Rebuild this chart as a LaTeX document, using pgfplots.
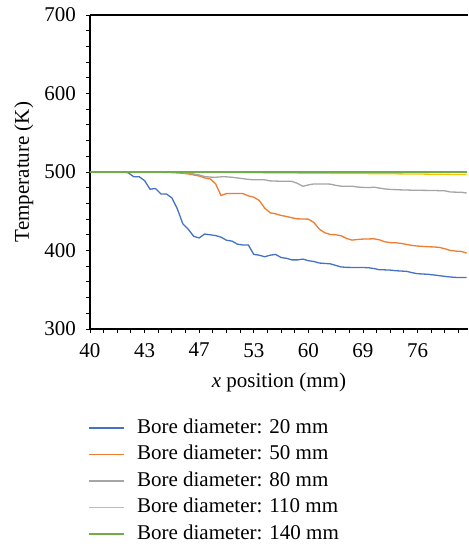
\documentclass[border=0pt]{standalone}
\usepackage{fontspec}
\setmainfont{Liberation Serif}
\usepackage{pgfplots}
\pgfplotsset{compat=1.18}

\definecolor{cBlue}{HTML}{4472C4}
\definecolor{cOrange}{HTML}{ED7D31}
\definecolor{cGray}{HTML}{A5A5A5}
\definecolor{cYellow}{HTML}{FFC000}
\definecolor{cGreen}{HTML}{70AD47}

\begin{document}
\fontsize{21bp}{25bp}\selectfont
\begin{tikzpicture}
\begin{axis}[
    at={(0,0)}, anchor=south west,
    scale only axis, width=378bp, height=314bp,
    xmin=0, xmax=6.923, ymin=300, ymax=700,
    axis x line=box, axis y line=left,
    axis line style={-, line width=1.2bp, black},
    xtick pos=left, ytick pos=left, tick align=outside,
    major tick length=4bp, minor tick length=4bp,
    tick style={black, line width=0.9bp},
    xtick={0,...,6},
    xticklabels={40,43,47,53,60,69,76},
    minor xtick={0,0.25,...,6.8},
    ytick={300,400,...,700},
    minor y tick num=4,
    /pgf/number format/assume math mode=true,
    tick label style={font=\fontsize{21bp}{25bp}\selectfont},
    yticklabel style={inner sep=0pt, xshift=-10bp},
    xticklabel style={inner sep=0pt, yshift=-10bp},
    xlabel={\textit{x} position (mm)},
    ylabel={Temperature (K)},
    xlabel style={at={(axis description cs:0.5,-0.187)}, anchor=base},
    ylabel style={at={(axis description cs:-0.1614,0.5)}, anchor=base},
    legend cell align=left,
    legend image code/.code={\draw[#1, line width=1.8bp] (0bp,0bp) -- (35bp,0bp);},
    legend style={at={(axis description cs:-0.005,-0.283)}, anchor=north west,
        draw=none, fill=none, inner sep=0pt, row sep=6.5bp, column sep=12bp,
        nodes={inner sep=0pt, text height=15bp, text depth=5bp},
        font=\fontsize{21bp}{25bp}\selectfont},
    every axis plot/.append style={line width=1.3bp},
]
\addplot[cBlue] coordinates {
(0,500) (0.1,500) (0.2,500) (0.3,500) (0.4,500) (0.5,500) (0.6,500) (0.7,499)
(0.8,494) (0.9,494) (1.0,489) (1.1,478) (1.2,479) (1.3,472) (1.4,472) (1.5,467)
(1.6,453) (1.7,434) (1.8,427) (1.9,418) (2.0,416) (2.1,421) (2.2,420) (2.3,419)
(2.4,417) (2.5,413) (2.6,412) (2.7,408) (2.8,407) (2.9,407) (3.0,395) (3.1,394)
(3.2,392) (3.3,394) (3.4,395) (3.5,391) (3.6,390) (3.7,388) (3.8,388) (3.9,389)
(4.0,387) (4.1,386) (4.2,384) (4.3,383.5) (4.4,383) (4.5,381) (4.6,379) (4.7,378.5)
(4.8,378.4) (4.9,378.4) (5.0,378.3) (5.1,378) (5.2,377) (5.3,375.5) (5.4,375.3) (5.5,375)
(5.6,374.2) (5.7,373.8) (5.8,373.4) (5.9,371.7) (6.0,370.4) (6.1,370) (6.2,369.6) (6.3,368.8)
(6.4,367.9) (6.5,367) (6.6,366.2) (6.7,365.7) (6.8,365.5) (6.9,365.5)
};
\addlegendentry{Bore diameter: 20 mm}
\addplot[cOrange] coordinates {
(0,500) (0.5,500) (1.0,500) (1.1,500) (1.2,499.8) (1.3,499.6) (1.4,499.4) (1.5,499.2)
(1.6,498.8) (1.7,498.3) (1.8,497.5) (1.9,496.2) (2.0,494.9) (2.1,492.5) (2.2,491.2) (2.3,485)
(2.4,470) (2.5,472.5) (2.6,472.5) (2.7,472.5) (2.8,472.5) (2.9,469.6) (3.0,467.9) (3.1,463.7)
(3.2,454) (3.3,448) (3.4,446.7) (3.5,444.6) (3.6,443.3) (3.7,441.6) (3.8,440.3) (3.9,440.1)
(4.0,439.9) (4.1,435.7) (4.2,427.2) (4.3,422.6) (4.4,420.4) (4.5,420) (4.6,418.7) (4.7,415.3)
(4.8,413.2) (4.9,414) (5.0,414.5) (5.1,414.7) (5.2,414.9) (5.3,413.6) (5.4,411.1) (5.5,410)
(5.6,409.8) (5.7,409) (5.8,407.7) (5.9,406.4) (6.0,405.6) (6.1,405.2) (6.2,404.7) (6.3,404.5)
(6.4,403.9) (6.5,402.2) (6.6,400) (6.7,399.2) (6.8,398.8) (6.9,396.7)
};
\addlegendentry{Bore diameter: 50 mm}
\addplot[cGray] coordinates {
(0,500) (0.5,500) (1.0,500) (1.5,500) (1.6,499.8) (1.7,499) (1.8,498.5) (1.9,497.5)
(2.0,496.2) (2.1,494.2) (2.2,493.5) (2.3,493.3) (2.4,493.8) (2.5,493.8) (2.6,493.3) (2.7,492.4)
(2.8,491.5) (2.9,490.6) (3.0,490) (3.1,490) (3.2,490) (3.3,488.7) (3.4,488.4) (3.5,488.2)
(3.6,488.2) (3.7,488) (3.8,485.5) (3.9,481.8) (4.0,483.5) (4.1,484.8) (4.2,484.8) (4.3,484.8)
(4.4,484.5) (4.5,483) (4.6,481.9) (4.7,481.9) (4.8,481.9) (4.9,480.8) (5.0,480.4) (5.1,480.1)
(5.2,480.6) (5.3,479.5) (5.4,478.4) (5.5,477.8) (5.6,477.5) (5.7,477.2) (5.8,477) (5.9,476.8)
(6.0,476.7) (6.1,476.6) (6.2,476.5) (6.3,476.4) (6.4,476.2) (6.5,476) (6.6,474.5) (6.7,474.3)
(6.8,474.2) (6.9,473.2)
};
\addlegendentry{Bore diameter: 80 mm}
\addplot[cYellow] coordinates {
(0,500) (1.0,500) (2.0,500) (2.5,499.5) (3.0,499) (3.5,498.7) (4.0,498.5) (4.5,498.2)
(5.0,498) (5.5,497.7) (6.0,497.4) (6.5,497) (6.9,496.7)
};
\addlegendentry{Bore diameter: 110 mm}
\addplot[cGreen] coordinates {
(0,500) (1.0,500) (2.0,500) (3.0,500) (4.0,500) (5.0,500) (6.0,500) (6.9,500)
};
\addlegendentry{Bore diameter: 140 mm}
\end{axis}
\useasboundingbox (-90bp,-215bp) rectangle (378bp,329bp);
\end{tikzpicture}
\end{document}
